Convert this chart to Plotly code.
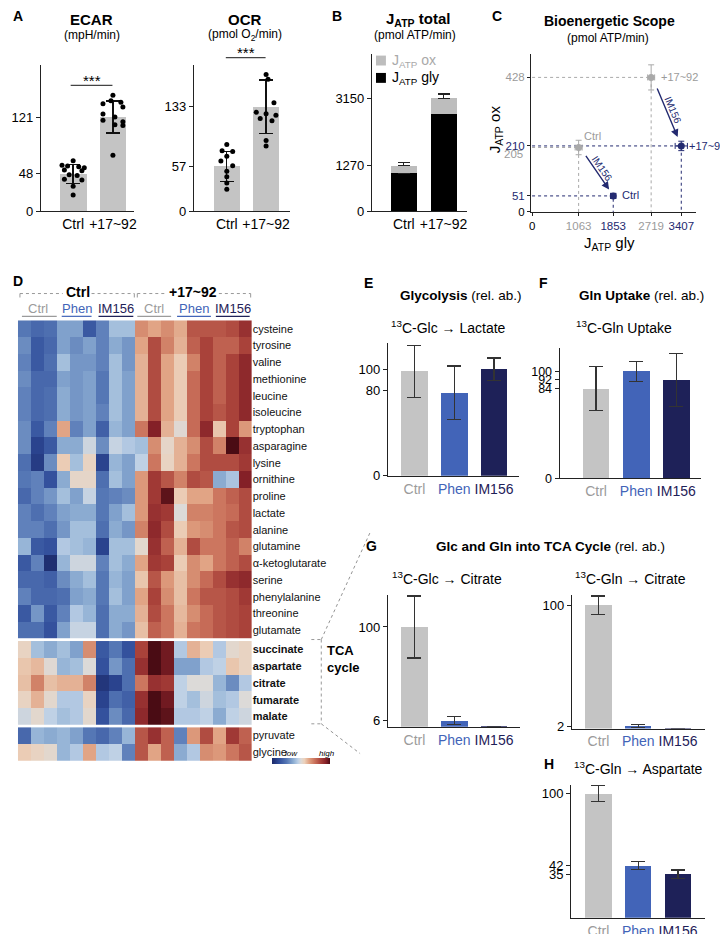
import math
import plotly.graph_objects as go

W, H = 728, 934
FONT = "Liberation Sans, Arial, Helvetica, sans-serif"
GRAY_BAR = "#c4c4c4"
PHEN = "#4264b8"
IMC = "#1e2158"
GRAY_TXT = "#9b9b9b"
NAVY = "#232a70"

# ---------------- data ----------------
groups = ["Ctrl", "+17~92"]
ecar_mean = [48, 121]
ecar_sd = [12, 20.5]
ecar_ctrl_pts = [65, 59, 58, 57, 56, 53, 52, 47, 46, 41, 40, 32, 21]
ecar_tx_pts = [149, 142, 140, 138, 134, 125, 121, 117, 115, 111, 110, 72]
ocr_mean = [57, 133]
ocr_sd = [19, 34]
ocr_ctrl_pts = [85, 77, 76, 70, 64, 58, 51, 44, 36, 28]
ocr_tx_pts = [187, 174, 168, 138, 126, 124, 122, 118, 115, 90, 83]

jatp_gly = [1063, 2719]
jatp_ox = [205, 428]
jatp_gly_err = [89, 72]
jatp_tot_err = [86, 122]

c_gly_err = [80, 80]
c_ox_err = [23, 40]
c_gly_im = [1853, 3407]
c_ox_im = [51, 210]
c_gly_im_err = [60, 140]
c_ox_im_err = [8, 15]

treat = ["Ctrl", "Phen", "IM156"]
glyco_lac = [98, 78, 100]
glyco_lac_err = [24.5, 25, 10.5]
gln_uptake = [84, 100, 92]
gln_uptake_err = [20.5, 9.5, 24.5]
glc_cit = [100, 6, 0.3]
glc_cit_err = [31, 4, 0]
gln_cit = [100, 2, 0.2]
gln_cit_err = [7.5, 1.2, 0]
gln_asp = [100, 42, 35]
gln_asp_err = [6.6, 3.3, 3.6]

rows1 = ["cysteine", "tyrosine", "valine", "methionine", "leucine", "isoleucine",
         "tryptophan", "asparagine", "lysine", "ornithine", "proline", "lactate",
         "alanine", "glutamine", "α-ketoglutarate", "serine", "phenylalanine",
         "threonine", "glutamate"]
rows2 = ["succinate", "aspartate", "citrate", "fumarate", "malate"]
rows3 = ["pyruvate", "glycine"]
z1 = [
    [-1.1, -1.3, -1.2, -0.7, -0.7, -1.5, -1.0, -0.4, -0.4, 0.8, 0.6, 0.8, 0.55, 1.3, 1.3, 1.3, 1.4, 1.7],
    [-0.9, -1.5, -1.3, -0.7, -0.9, -0.7, -1.0, -0.6, -0.8, 0.6, 1.4, 0.9, 0.5, 1.2, 1.5, 1.2, 1.2, 1.5],
    [-1.0, -1.5, -1.2, -0.4, -0.8, -0.8, -1.0, -0.4, -0.8, 0.5, 1.4, 0.6, 0.3, 0.9, 1.5, 1.2, 1.5, 1.8],
    [-0.9, -1.3, -1.3, -0.7, -0.8, -0.7, -1.1, -0.4, -0.7, 0.5, 1.4, 0.6, 0.3, 1.1, 1.5, 1.2, 1.5, 1.8],
    [-1.0, -1.3, -1.2, -0.6, -0.8, -0.7, -1.1, -0.4, -0.7, 0.5, 1.4, 0.6, 0.3, 1.1, 1.5, 1.2, 1.5, 1.8],
    [-1.0, -1.3, -1.2, -0.6, -0.8, -0.7, -1.0, -0.4, -0.7, 0.5, 1.4, 0.6, 0.3, 1.1, 1.5, 1.3, 1.5, 1.8],
    [-0.9, -1.5, -1.0, 0.6, -1.0, -0.7, -1.4, -0.5, -0.7, 1.0, 1.9, 0.5, 0.05, 1.1, 1.8, 0.35, 1.5, 0.7],
    [-0.9, -1.8, -1.5, -0.6, -0.6, -0.1, -0.9, -0.15, -0.3, -0.4, 0.8, 0.15, 0.5, 0.8, 1.4, 0.9, 2.2, 1.7],
    [-1.2, -1.9, -0.9, 0.3, -0.4, 0.2, -1.8, -0.5, -0.7, -0.2, 1.0, 0.2, 0.5, 1.0, 1.4, 1.4, 1.4, 1.6],
    [-1.1, -1.0, -1.6, -0.6, 0.15, 0.15, -1.2, -0.4, -0.7, 0.7, 1.6, 1.3, 0.9, 1.4, 1.3, -0.6, -0.35, 1.9],
    [-1.3, -1.0, -0.8, -0.4, -0.7, -0.15, -1.1, -1.0, -0.9, 0.7, 1.6, 2.1, 0.3, 0.6, 0.6, 1.0, 1.2, 1.4],
    [-1.0, -1.2, -1.0, -0.7, -0.6, -0.6, -1.1, -0.7, -0.4, 0.7, 1.7, 1.6, 0.0, 0.9, 0.9, 1.0, 1.1, 1.4],
    [-1.0, -1.0, -1.2, -0.8, -0.4, -0.4, -1.2, -0.6, -0.8, 0.9, 1.8, 1.4, 0.3, 0.7, 0.8, 1.0, 1.3, 1.4],
    [-0.5, -1.5, -1.6, -0.3, -0.4, -0.5, -1.8, -0.4, -0.4, 0.1, 1.7, 1.2, 0.5, 1.4, 1.0, 1.0, 1.2, 0.9],
    [-1.5, -1.0, -2.1, -0.5, -0.1, -0.1, -1.0, -0.4, -0.6, 0.6, 1.6, 1.5, 0.3, 0.8, 0.6, 1.0, 1.2, 1.4],
    [-1.3, -1.3, -1.4, -0.9, -0.6, -0.4, -1.1, -0.5, -0.7, 0.35, 1.3, 0.7, 0.4, 0.8, 1.1, 1.4, 1.7, 1.8],
    [-1.0, -1.3, -1.3, -1.2, -0.7, -0.6, -1.1, -0.4, -0.7, 0.6, 1.5, 0.8, 0.4, 1.0, 1.3, 1.3, 1.4, 1.6],
    [-1.5, -0.8, -1.5, -1.0, -0.3, -0.5, -1.2, -0.6, -0.6, 0.5, 1.4, 1.0, 0.45, 0.8, 1.1, 1.3, 1.4, 1.5],
    [-1.2, -1.2, -1.6, -0.7, -0.15, -0.15, -1.2, -0.6, -0.8, 0.4, 1.2, 1.0, 0.5, 1.0, 1.1, 1.3, 1.4, 1.5],
]
z2 = [
    [0.2, -0.4, -0.6, -0.4, -0.7, 0.8, -1.5, -1.1, -1.6, 1.5, 2.6, 2.0, -0.3, 0.5, 0.3, -0.3, 0.1, 0.2],
    [0.35, 0.45, 0.05, -0.5, -0.4, 0.0, -1.6, -0.8, -1.2, 1.7, 2.8, 2.0, -0.7, -0.7, -0.3, -0.2, 0.35, 0.2],
    [0.4, 0.9, 0.4, 0.5, 0.5, 0.9, -2.0, -1.8, -1.2, 1.0, 1.7, 1.6, -0.2, 0.0, 0.0, -0.5, -0.9, -0.3],
    [0.2, 0.5, 0.1, -0.3, -0.3, 0.2, -1.8, -1.2, -1.4, 1.7, 2.2, 2.0, -0.2, -0.4, -0.1, -0.4, -0.3, 0.0],
    [-0.1, 0.1, -0.2, -0.4, -0.3, 0.1, -1.6, -0.9, -1.3, 1.8, 2.3, 2.1, -0.3, -0.3, -0.2, -0.6, -0.2, -0.1],
]
z3 = [
    [-1.3, -0.5, -0.6, -0.5, -0.7, -1.1, -1.3, -1.0, -0.5, 1.3, 1.7, 1.2, -1.0, 0.7, 1.4, 0.6, 1.6, 1.2],
    [0.3, 0.2, 0.1, -0.5, -0.3, 0.6, -0.3, -0.2, -1.0, 1.3, 0.6, 1.2, -0.6, -0.3, 0.8, 0.7, 1.0, 1.3],
]

# jitter offsets of the scatter dots (positional)
ecar_ctrl_dx = [0, -0.28, -0.14, 0.14, 0.28, -0.22, 0.22, -0.1, 0.1, -0.22, 0.22, 0, 0]
ecar_tx_dx = [0, -0.05, 0.2, -0.25, 0.25, -0.25, 0.05, -0.25, 0.25, 0.05, 0.25, 0]
ocr_ctrl_dx = [0, -0.12, 0.15, 0, -0.15, 0.15, 0, 0, 0, 0]
ocr_tx_dx = [-0.15, 0, 0.05, 0.2, -0.25, 0, 0.25, -0.15, 0.15, 0, 0]

# ---------------- helpers ----------------
def xdom(a, b):
    return [a / W, b / W]

def ydom(top, bottom):
    return [1 - bottom / H, 1 - top / H]

def span(t, c):
    return '<span style="color:%s">%s</span>' % (c, t)

shapes = []
annotations = []

def pline(x0, y0, x1, y1, color="#999", width=1, dash=None):
    ln = dict(color=color, width=width)
    if dash:
        ln["dash"] = dash
    shapes.append(dict(type="line", xref="paper", yref="paper", x0=x0 / W, x1=x1 / W,
                       y0=1 - y0 / H, y1=1 - y1 / H, line=ln))

def prect(x0, y0, x1, y1, color):
    shapes.append(dict(type="rect", xref="paper", yref="paper", x0=x0 / W, x1=x1 / W,
                       y0=1 - y1 / H, y1=1 - y0 / H, line=dict(width=0), fillcolor=color))

def ann(x, y, text, size=13, color="black", xanchor="center", yanchor="middle", **kw):
    annotations.append(dict(xref="paper", yref="paper", x=x / W, y=1 - y / H, text=text,
                            showarrow=False, font=dict(size=size, color=color, family=FONT),
                            xanchor=xanchor, yanchor=yanchor, **kw))

AXC = "#222"

def yax(dom, rng, anchor, tickvals, ticktext=None, size=13):
    d = dict(domain=dom, range=rng, anchor=anchor, showline=True, linecolor=AXC, linewidth=1.2,
             ticks="outside", ticklen=4, tickwidth=1.2, tickcolor=AXC, tickvals=tickvals,
             showgrid=False, zeroline=False, tickfont=dict(size=size, family=FONT))
    if ticktext is not None:
        d["ticktext"] = ticktext
    return d

def xax(dom, rng, anchor, ticktext, size=14):
    return dict(domain=dom, range=rng, anchor=anchor, showline=True, linecolor=AXC, linewidth=1.2,
                ticks="", tickvals=list(range(len(ticktext))), ticktext=ticktext, showgrid=False,
                zeroline=False, tickfont=dict(size=size, family=FONT))

fig = go.Figure()

# ---------------- Panel A: ECAR ----------------
fig.add_trace(go.Bar(x=[0, 1], y=ecar_mean, width=0.675, marker=dict(color=GRAY_BAR, line=dict(width=0)),
                     error_y=dict(type="data", array=ecar_sd, color="#111", thickness=1.4, width=7),
                     xaxis="x", yaxis="y"))
fig.add_trace(go.Scatter(x=[0 + d for d in ecar_ctrl_dx] + [1 + d for d in ecar_tx_dx],
                         y=ecar_ctrl_pts + ecar_tx_pts, mode="markers",
                         marker=dict(color="black", size=5), xaxis="x", yaxis="y", cliponaxis=False))
# OCR
fig.add_trace(go.Bar(x=[0, 1], y=ocr_mean, width=0.66, marker=dict(color=GRAY_BAR, line=dict(width=0)),
                     error_y=dict(type="data", array=ocr_sd, color="#111", thickness=1.4, width=7),
                     xaxis="x2", yaxis="y2"))
fig.add_trace(go.Scatter(x=[0 + d for d in ocr_ctrl_dx] + [1 + d for d in ocr_tx_dx],
                         y=ocr_ctrl_pts + ocr_tx_pts, mode="markers",
                         marker=dict(color="black", size=5), xaxis="x2", yaxis="y2", cliponaxis=False))

# ---------------- Panel B: stacked JATP ----------------
fig.add_trace(go.Bar(x=[0, 1], y=jatp_gly, width=0.65, marker=dict(color="black", line=dict(width=0)),
                     error_y=dict(type="data", symmetric=False, array=jatp_gly_err, arrayminus=[0, 0],
                                  color="#222", thickness=1.2, width=6),
                     xaxis="x3", yaxis="y3"))
fig.add_trace(go.Bar(x=[0, 1], y=jatp_ox, width=0.65, marker=dict(color="#bdbdbd", line=dict(width=0)),
                     error_y=dict(type="data", symmetric=False, array=jatp_tot_err, arrayminus=[0, 0],
                                  color="#222", thickness=1.2, width=6),
                     xaxis="x3", yaxis="y3"))

# ---------------- Panel C: bioenergetic scope ----------------
pts = [(jatp_gly, jatp_ox, c_gly_err, c_ox_err, "#a9a9a9"),
       (c_gly_im, c_ox_im, c_gly_im_err, c_ox_im_err, NAVY)]
for gx, oy, ex, ey, col in pts:
    for i in range(2):
        fig.add_trace(go.Scatter(x=[0, gx[i], gx[i]], y=[oy[i], oy[i], 0], mode="lines",
                                 line=dict(color=col, width=1, dash="dot"), xaxis="x4", yaxis="y4",
                                 hoverinfo="skip"))
for gx, oy, ex, ey, col in pts:
    fig.add_trace(go.Scatter(x=gx, y=oy, mode="markers", marker=dict(color=col, size=7),
                             error_x=dict(type="data", array=ex, color=col, thickness=1, width=3),
                             error_y=dict(type="data", array=ey, color=col, thickness=1, width=3),
                             xaxis="x4", yaxis="y4", cliponaxis=False))

# C point labels
c_lab = [("Ctrl", jatp_gly[0], jatp_ox[0], GRAY_TXT, 3, 12),
         ("+17~92", jatp_gly[1], jatp_ox[1], GRAY_TXT, 8, 0),
         ("Ctrl", c_gly_im[0], c_ox_im[0], NAVY, 7, 1),
         ("+17~92", c_gly_im[1], c_ox_im[1], NAVY, 6, 0)]
for t, x, y, col, xs, ys in c_lab:
    annotations.append(dict(xref="x4", yref="y4", x=x, y=y, text=t, showarrow=False,
                            xanchor="left", yanchor="middle", xshift=xs, yshift=ys,
                            font=dict(size=11, color=col, family=FONT)))

# arrows (IM156 treatment shift)
PXX = 150 / 3407.0
PXY = 135.7 / 428.0
for i in range(2):
    x0, y0 = jatp_gly[i], jatp_ox[i]
    x1, y1 = c_gly_im[i], c_ox_im[i]
    sx, sy = x0 + 0.18 * (x1 - x0), y0 + 0.14 * (y1 - y0)
    ex, ey = x0 + 0.88 * (x1 - x0), y0 + 0.87 * (y1 - y0)
    annotations.append(dict(xref="x4", yref="y4", axref="x4", ayref="y4", x=ex, y=ey, ax=sx, ay=sy,
                            text="", showarrow=True, arrowhead=2, arrowsize=1.1, arrowwidth=1.4,
                            arrowcolor=NAVY))
    dxp = (ex - sx) * PXX
    dyp = (sy - ey) * PXY
    L = math.hypot(dxp, dyp)
    ang = math.degrees(math.atan2(dyp, dxp))
    annotations.append(dict(xref="x4", yref="y4", x=(sx + ex) / 2, y=(sy + ey) / 2, text="IM156",
                            showarrow=False, textangle=ang, xshift=6 * dyp / L, yshift=6 * dxp / L,
                            font=dict(size=10, color=NAVY, family=FONT)))

# ---------------- Panel D: heatmap ----------------
cscale = [[0.0, "#1b2868"], [0.12, "#2f4c9a"], [0.25, "#5577b5"], [0.37, "#8eaed3"],
          [0.45, "#bcd0e6"], [0.5, "#dcdad8"], [0.56, "#ecd1bb"], [0.64, "#e0a282"],
          [0.74, "#c9705a"], [0.84, "#a9423a"], [0.93, "#862128"], [1.0, "#4a0c14"]]
heat_cols = list(range(18))
for zz, rows, ya, sc in [(z1, rows1, "y5", True), (z2, rows2, "y6", False), (z3, rows3, "y7", False)]:
    tr = go.Heatmap(z=zz, x=heat_cols, y=rows, xaxis="x5", yaxis=ya, colorscale=cscale,
                    zmin=-2.2, zmax=2.2, showscale=sc, hoverinfo="skip")
    if sc:
        tr.colorbar = dict(orientation="h", x=293 / W, y=1 - 760 / H, xanchor="center", yanchor="middle",
                           len=58, lenmode="pixels", thickness=6, thicknessmode="pixels",
                           showticklabels=False, ticks="", outlinewidth=0, xpad=0, ypad=0)
    fig.add_trace(tr)

# ---------------- Panels E-H ----------------
bar_cols = [GRAY_BAR, PHEN, IMC]
treat_txt = [span("Ctrl", GRAY_TXT), span("Phen", PHEN), span("IM156", IMC)]
panels = [(glyco_lac, glyco_lac_err, "x6", "y8"),
          (gln_uptake, gln_uptake_err, "x7", "y9"),
          (glc_cit, glc_cit_err, "x8", "y10"),
          (gln_cit, gln_cit_err, "x9", "y11"),
          (gln_asp, gln_asp_err, "x10", "y12")]
for vals, errs, xa, ya in panels:
    fig.add_trace(go.Bar(x=[0, 1, 2], y=vals, width=0.667,
                         marker=dict(color=bar_cols, line=dict(width=0)),
                         error_y=dict(type="data", array=errs, color="#333", thickness=1.3, width=7),
                         xaxis=xa, yaxis=ya))

# ---------------- layout axes ----------------
lay = dict(width=W, height=H, margin=dict(l=0, r=0, t=0, b=0), paper_bgcolor="white",
           plot_bgcolor="white", showlegend=False, barmode="stack",
           font=dict(family=FONT, color="black"))

lay["xaxis"] = xax(xdom(31, 125), [-0.8125, 1.5375], "y", groups)
lay["yaxis"] = yax(ydom(57, 205), [0, 188.5], "x", [0, 48, 121])
lay["xaxis2"] = xax(xdom(185, 282), [-0.835, 1.62], "y2", groups)
lay["yaxis2"] = yax(ydom(57, 205), [0, 186.6], "x2", [0, 57, 133])
lay["xaxis3"] = xax(xdom(364, 460), [-0.8, 1.6], "y3", groups)
lay["yaxis3"] = yax(ydom(46.7, 205), [0, 4374], "x3", [0, 1270, 3150])

cx_vals = [0, jatp_gly[0], c_gly_im[0], jatp_gly[1], c_gly_im[1]]
cx_cols = ["black", GRAY_TXT, NAVY, GRAY_TXT, NAVY]
cy_vals = [0, c_ox_im[0], c_ox_im[1], jatp_ox[1]]
cy_cols = ["black", NAVY, NAVY, GRAY_TXT]
lay["xaxis4"] = dict(domain=xdom(524, 690), range=[-22, 3748], anchor="y4", showline=True,
                     linecolor=AXC, linewidth=1.2, ticks="outside", ticklen=3, tickcolor=AXC,
                     tickvals=cx_vals, ticktext=[span(str(v), c) for v, c in zip(cx_vals, cx_cols)],
                     showgrid=False, zeroline=False, tickfont=dict(size=11.5, family=FONT))
lay["yaxis4"] = dict(domain=ydom(46.7, 205.7), range=[0, 501.5], anchor="x4", showline=True,
                     linecolor=AXC, linewidth=1.2, ticks="outside", ticklen=3, tickcolor=AXC,
                     tickvals=cy_vals, ticktext=[span(str(v), c) for v, c in zip(cy_vals, cy_cols)],
                     showgrid=False, zeroline=False, tickfont=dict(size=11.5, family=FONT))

lay["xaxis5"] = dict(domain=xdom(8, 243), range=[-0.5, 17.5], anchor="y5", visible=False)
for name, dom, rows in [("yaxis5", ydom(315, 636.1), rows1), ("yaxis6", ydom(638.5, 723.0), rows2),
                        ("yaxis7", ydom(725.4, 759.2), rows3)]:
    tt = ["<b>%s</b>" % r for r in rows] if rows is rows2 else rows
    lay[name] = dict(domain=dom, anchor="x5", type="category", autorange="reversed", side="right",
                     tickvals=rows, ticktext=tt, ticks="", showline=False, showgrid=False,
                     zeroline=False, tickfont=dict(size=11, family=FONT, color="#111"))

lay["xaxis6"] = xax(xdom(380, 512), [-0.6675, 2.6325], "y8", treat_txt)
lay["yaxis8"] = yax(ydom(338.3, 471.7), [0, 124.3], "x6", [0, 80, 100])
lay["xaxis7"] = xax(xdom(552.7, 695), [-0.908, 2.62], "y9", treat_txt)
lay["yaxis9"] = yax(ydom(343.3, 474.5), [0, 121.5], "x7", [0, 84, 92, 100], size=12.5)
lay["xaxis8"] = xax(xdom(380, 513), [-0.6675, 2.6575], "y10", treat_txt)
lay["yaxis10"] = yax(ydom(591.7, 725), [0, 132.4], "x8", [6, 100])
lay["xaxis9"] = xax(xdom(565, 699), [-0.6675, 2.6825], "y11", treat_txt)
lay["yaxis11"] = yax(ydom(591.7, 726.8), [0, 108.5], "x9", [2, 100])
lay["xaxis10"] = xax(xdom(564.3, 699), [-0.685, 2.6825], "y12", treat_txt)
lay["yaxis12"] = yax(ydom(783.3, 917.7), [0, 107.2], "x10", [35, 42, 100])

# ---------------- texts ----------------
for L_, x, y in [("A", 8, 8), ("B", 329, 8), ("C", 490, 8), ("D", 8, 275), ("E", 360, 277),
                 ("F", 536, 277), ("G", 363, 543), ("H", 542, 763)]:
    ann(x, y, "<b>%s</b>" % L_, size=14)

ann(82, 12, "<b>ECAR</b>", size=15)
ann(82, 27, "(mpH/min)", size=12)
ann(236, 12, "<b>OCR</b>", size=15)
ann(236, 27, "(pmol O<sub>2</sub>/min)", size=12)
ann(410, 12, "<b>J<sub>ATP</sub> total</b>", size=15)
ann(407, 27, "(pmol ATP/min)", size=12)
ann(603, 13, "<b>Bioenergetic Scope</b>", size=14)
ann(601, 30, "(pmol ATP/min)", size=12)

# significance
pline(61, 78, 103, 78, color="#444", width=1.2)
ann(82, 73, "***", size=15)
pline(217, 50, 257, 50, color="#444", width=1.2)
ann(237, 45, "***", size=15)

# B legend
prect(368, 48, 378, 58, "#bdbdbd")
prect(368, 65.5, 378, 75.5, "black")
ann(382, 53, "J<sub>ATP</sub> ox", size=14, color="#a9a9a9", xanchor="left")
ann(382, 71, "J<sub>ATP</sub> gly", size=14, xanchor="left")

# C axis titles / extra tick
ann(603, 238, "J<sub>ATP</sub> gly", size=15)
ann(489, 122, "J<sub>ATP</sub> ox", size=15, textangle=-90)
ann(518, 147, "205", size=11.5, color=GRAY_TXT, xanchor="right")

# heatmap header
ann(68, 286, "<b>Ctrl</b>", size=14)
ann(184, 286, "<b>+17~92</b>", size=14)
for a, b in [(10, 53), (82, 125), (128, 158), (210, 242)]:
    pline(a, 288, b, 288, color="#999", width=1, dash="dot")
for x in [10, 125, 128, 242]:
    pline(x, 288, x, 292, color="#999", width=1)
sub = [(28, "Ctrl", GRAY_TXT, 12, 47), (67, "Phen", PHEN, 52, 82), (107, "IM156", IMC, 89, 124),
       (145, "Ctrl", GRAY_TXT, 128, 162), (185, "Phen", PHEN, 168, 202), (224, "IM156", IMC, 207, 241)]
for x, t, c, a, b in sub:
    ann(x, 303, t, size=13, color=c)
    pline(a, 311, b, 311, color=c, width=1.2)

# TCA bracket and connectors
ann(317, 657, "<b>TCA<br>cycle</b>", size=13, xanchor="left", align="left")
pline(303, 637, 313, 637, dash="dot")
pline(313, 637, 313, 722, dash="dot")
pline(303, 722, 313, 722, dash="dot")
pline(313, 637, 363, 527, color="#777", width=0.8, dash="dot")
pline(313, 722, 352, 752, color="#777", width=0.8, dash="dot")

# colorbar labels
ann(283, 752, "<i>low</i>", size=8)
ann(319, 752, "<i>high</i>", size=8)

# E-H titles
ann(453, 290, "<b>Glycolysis</b> (rel. ab.)", size=13.5)
ann(441, 322, "<sup>13</sup>C-Glc → Lactate", size=14)
ann(635, 290, "<b>Gln Uptake</b> (rel. ab.)", size=13.5)
ann(617, 322, "<sup>13</sup>C-Gln Uptake", size=14)
ann(543, 543, "<b>Glc and Gln into TCA Cycle</b> (rel. ab.)", size=13.5)
ann(439, 575, "<sup>13</sup>C-Glc → Citrate", size=14)
ann(624, 575, "<sup>13</sup>C-Gln → Citrate", size=14)
ann(632, 767, "<sup>13</sup>C-Gln → Aspartate", size=14)

lay["shapes"] = shapes
lay["annotations"] = annotations
fig.update_layout(**lay)
fig.write_html("out.html", config={"displayModeBar": False})
